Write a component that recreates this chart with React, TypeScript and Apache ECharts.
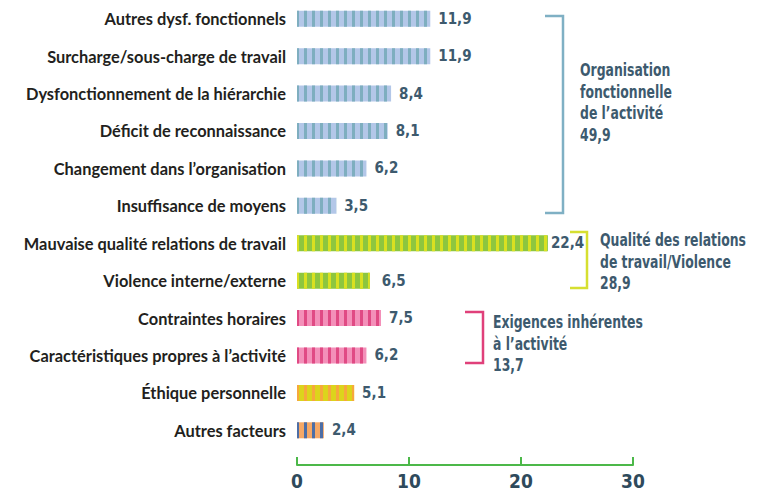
import React, { useEffect, useRef } from "react";
import * as echarts from "echarts";

const categories = [
  "Autres dysf. fonctionnels",
  "Surcharge/sous-charge de travail",
  "Dysfonctionnement de la hiérarchie",
  "Déficit de reconnaissance",
  "Changement dans l’organisation",
  "Insuffisance de moyens",
  "Mauvaise qualité relations de travail",
  "Violence interne/externe",
  "Contraintes horaires",
  "Caractéristiques propres à l’activité",
  "Éthique personnelle",
  "Autres facteurs",
];
const values = [11.9, 11.9, 8.4, 8.1, 6.2, 3.5, 22.4, 6.5, 7.5, 6.2, 5.1, 2.4];
// group index per category
const groupOf = [0, 0, 0, 0, 0, 0, 1, 1, 2, 2, 3, 4];
const groupBase = ["#b3c7e8", "#8dc63f", "#f390b9", "#dcd41c", "#f6a866"];
const groupStripe = ["#7eaebf", "#d9e021", "#e04a84", "#f7a83c", "#4d6ea6"];
const xTicks = [0, 10, 20, 30];
const bracketTitles = [
  "Organisation\nfonctionnelle\nde l’activité",
  "Qualité des relations\nde travail/Violence",
  "Exigences inhérentes\nà l’activité",
];
const bracketTotals = [49.9, 28.9, 13.7];

const fmt = (v: number) => v.toFixed(1).replace(".", ",");
const SLATE = "#3d5a6e";
const NARROW = "'DejaVu Sans Condensed', 'Liberation Sans Narrow', sans-serif";
const HUMAN = "Lato, 'Open Sans', sans-serif";

export default function App() {
  const ref = useRef<HTMLDivElement>(null);
  useEffect(() => {
    document.body.style.margin = "0";
    if (!ref.current) return;
    const chart = echarts.init(ref.current, undefined, { renderer: "svg" });

    const data = values.map((v, i) => {
      const g = groupOf[i];
      return {
        value: v,
        itemStyle: {
          color: groupBase[g],
          decal: {
            symbol: "rect",
            symbolSize: 1,
            color: groupStripe[g],
            dashArrayX: [3, 5],
            dashArrayY: [10, 0],
            rotation: 0,
          },
        },
        label: i === 6 ? { distance: 3 } : i === 7 ? { distance: 12 } : undefined,
      };
    });

    const bracket = (x: number, y1: number, y2: number, arm: number, color: string) => ({
      type: "polyline",
      shape: { points: [[x - arm, y1], [x, y1], [x, y2], [x - arm, y2]] },
      style: { stroke: color, lineWidth: 2.5, fill: null },
    });
    const label = (x: number, y: number, i: number) => ({
      type: "text",
      x,
      y,
      scaleX: 0.92,
      scaleY: 1.15,
      style: {
        text: bracketTitles[i] + "\n" + fmt(bracketTotals[i]),
        fill: SLATE,
        font: `bold 15px ${NARROW}`,
        lineHeight: 18.7,
        verticalAlign: "top",
        align: "left",
      },
    });

    chart.setOption({
      animation: false,
      grid: { left: 297, width: 336, top: 0, bottom: 43, containLabel: false, outerBoundsMode: "none" },
      xAxis: {
        type: "value",
        min: 0,
        max: 30,
        interval: 10,
        offset: 16,
        splitLine: { show: false },
        axisLine: { show: true, lineStyle: { color: "#4cb849", width: 2 } },
        axisTick: { show: true, inside: true, length: 8, lineStyle: { color: "#4cb849", width: 2 } },
        axisLabel: {
          margin: 6,
          color: "#2e4a5c",
          fontFamily: NARROW,
          fontWeight: "bold",
          fontSize: 19,
          formatter: (v: number) => (xTicks.includes(v) ? String(v) : ""),
        },
      },
      yAxis: {
        type: "category",
        data: categories,
        inverse: true,
        axisLine: { show: false },
        axisTick: { show: false },
        axisLabel: {
          margin: 11,
          color: "#231f20",
          fontFamily: HUMAN,
          fontWeight: "bold",
          fontSize: 16.4,
        },
      },
      series: [
        {
          type: "bar",
          data,
          barWidth: 16,
          label: {
            show: true,
            position: "right",
            distance: 8,
            color: SLATE,
            fontFamily: NARROW,
            fontWeight: "bold",
            fontSize: 15,
            formatter: (p: any) => fmt(p.value),
          },
        },
      ],
      graphic: [
        bracket(563, 16, 213, 18, "#7fb0c4"),
        label(580, 60, 0),
        bracket(587, 232, 288, 17, "#d6df30"),
        label(600, 230, 1),
        bracket(483, 312, 363, 18, "#e0407a"),
        label(493, 312, 2),
      ],
    });
    return () => chart.dispose();
  }, []);
  return <div ref={ref} style={{ width: 757, height: 492 }} />;
}
